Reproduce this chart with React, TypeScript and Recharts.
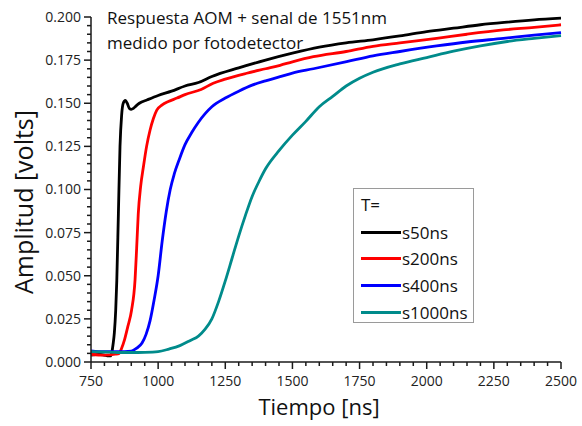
import React from 'react';
import { LineChart, Line, XAxis, YAxis } from 'recharts';

// ---------- data ----------
const s50Time = [750, 780, 800, 815, 822, 827, 832, 837, 842, 846, 852, 858, 864, 870, 878, 885, 893, 900, 908, 918, 930, 960, 1000, 1050, 1100, 1150, 1200, 1300, 1400, 1500, 1600, 1700, 1800, 1900, 2000, 2100, 2200, 2300, 2400, 2500];
const s50Amp = [0.004, 0.0045, 0.004, 0.0035, 0.0035, 0.005, 0.010, 0.017, 0.030, 0.047, 0.086, 0.125, 0.143, 0.150, 0.1516, 0.150, 0.147, 0.1465, 0.147, 0.1485, 0.150, 0.152, 0.1545, 0.157, 0.160, 0.162, 0.1655, 0.1705, 0.175, 0.179, 0.1825, 0.185, 0.1868, 0.189, 0.1915, 0.1935, 0.1955, 0.197, 0.1983, 0.1993];

const s200Time = [750, 800, 840, 855, 864, 875, 887, 901, 914, 920, 926, 935, 945, 957, 970, 982, 995, 1015, 1038, 1070, 1100, 1160, 1205, 1250, 1330, 1400, 1454, 1500, 1578, 1700, 1800, 1900, 2037, 2150, 2285, 2400, 2500];
const s200Amp = [0.0045, 0.004, 0.0045, 0.005, 0.008, 0.013, 0.0205, 0.030, 0.0476, 0.066, 0.086, 0.102, 0.113, 0.125, 0.1345, 0.141, 0.146, 0.149, 0.151, 0.153, 0.155, 0.158, 0.1616, 0.164, 0.1674, 0.170, 0.172, 0.174, 0.177, 0.180, 0.183, 0.185, 0.1876, 0.190, 0.1925, 0.194, 0.1955];

const s400Time = [750, 800, 850, 900, 920, 940, 955, 970, 985, 1000, 1015, 1030, 1045, 1060, 1080, 1100, 1125, 1150, 1175, 1200, 1250, 1300, 1350, 1400, 1454, 1500, 1578, 1702, 1800, 1900, 2037, 2150, 2285, 2400, 2500];
const s400Amp = [0.0065, 0.006, 0.006, 0.0063, 0.008, 0.011, 0.016, 0.024, 0.036, 0.050, 0.070, 0.087, 0.100, 0.109, 0.118, 0.126, 0.133, 0.139, 0.144, 0.148, 0.153, 0.157, 0.1605, 0.163, 0.1654, 0.1675, 0.170, 0.1741, 0.1775, 0.180, 0.1832, 0.1855, 0.1876, 0.1895, 0.191];

const s1000Time = [750, 800, 850, 900, 950, 1000, 1040, 1081, 1120, 1150, 1175, 1200, 1225, 1250, 1275, 1300, 1325, 1350, 1375, 1400, 1450, 1500, 1550, 1600, 1650, 1700, 1750, 1800, 1900, 2000, 2100, 2200, 2300, 2400, 2500];
const s1000Amp = [0.006, 0.0058, 0.0055, 0.0055, 0.0056, 0.006, 0.0075, 0.0095, 0.0125, 0.015, 0.019, 0.025, 0.035, 0.047, 0.060, 0.073, 0.085, 0.096, 0.1045, 0.112, 0.1225, 0.1315, 0.1395, 0.148, 0.154, 0.160, 0.1645, 0.168, 0.1728, 0.1765, 0.1802, 0.1833, 0.1858, 0.1876, 0.1892];

const seriesNames = ['s50ns', 's200ns', 's400ns', 's1000ns'];
const seriesColors = ['#000000', '#ff0000', '#0000ff', '#008b8b'];

const xMajorTicks = [750, 1000, 1250, 1500, 1750, 2000, 2250, 2500];
const yMajorTicks = [0, 0.025, 0.05, 0.075, 0.1, 0.125, 0.15, 0.175, 0.2];

const titleText = ['Respuesta AOM + senal de 1551nm', 'medido por fotodetector'];
const xTitle = 'Tiempo [ns]';
const yTitle = 'Amplitud [volts]';
const legendTitle = 'T=';

// ---------- layout ----------
const W = 582;
const H = 426;
const MARGIN = { top: 17, right: 21, bottom: 0, left: 0 };
const Y_AXIS_W = 91;
const X_AXIS_H = 64;
const X_DOMAIN: [number, number] = [750, 2500];
const Y_DOMAIN: [number, number] = [0, 0.2];
const PLOT = {
  left: MARGIN.left + Y_AXIS_W,
  right: W - MARGIN.right,
  top: MARGIN.top,
  bottom: H - MARGIN.bottom - X_AXIS_H,
};

// ---------- helpers ----------
const toRows = (t: number[], a: number[]) => t.map((v, i) => ({ t: v, a: a[i] }));
const seriesData = [toRows(s50Time, s50Amp), toRows(s200Time, s200Amp), toRows(s400Time, s400Amp), toRows(s1000Time, s1000Amp)];

const withMinor = (majors: number[], n: number, digits: number) => {
  const out: number[] = [];
  for (let i = 0; i < majors.length - 1; i++) {
    const a = majors[i];
    const b = majors[i + 1];
    for (let k = 1; k < n; k++) out.push(Number((a + ((b - a) * k) / n).toFixed(digits)));
  }
  return out;
};
const xMinorTicks = withMinor(xMajorTicks, 5, 3);
const yMinorTicks = withMinor(yMajorTicks, 5, 4);

// same linear mapping as the chart's axes, used only for the tick marks
const tx = (v: number) => PLOT.left + ((v - X_DOMAIN[0]) / (X_DOMAIN[1] - X_DOMAIN[0])) * (PLOT.right - PLOT.left);
const ty = (v: number) => PLOT.bottom - ((v - Y_DOMAIN[0]) / (Y_DOMAIN[1] - Y_DOMAIN[0])) * (PLOT.bottom - PLOT.top);
const MAJOR_LEN = 7;
const MINOR_LEN = 4;

const AXIS = '#1a1a1a';
const FONT = '"Open Sans", "Noto Sans", sans-serif';
const tickFont = { fontSize: 14, fontFamily: FONT, fill: '#222' };

export default function App() {
  return (
    <div style={{ position: 'absolute', left: 0, top: 0, width: W, height: H, background: '#fff', fontFamily: FONT }}>
      <LineChart width={W} height={H} margin={MARGIN}>
        <XAxis
          type="number"
          dataKey="t"
          domain={X_DOMAIN}
          ticks={xMajorTicks}
          interval={0}
          tickSize={7}
          tickMargin={7}
          tickLine={false}
          tick={tickFont}
          height={X_AXIS_H}
          stroke={AXIS}
          strokeWidth={1.5}
        />
        <YAxis
          type="number"
          dataKey="a"
          domain={Y_DOMAIN}
          ticks={yMajorTicks}
          interval={0}
          tickSize={7}
          tickMargin={3}
          tickLine={false}
          tick={tickFont}
          tickFormatter={(v: number) => v.toFixed(3)}
          width={Y_AXIS_W}
          stroke={AXIS}
          strokeWidth={1.5}
        />
        {seriesData.map((d, i) => (
          <Line
            key={seriesNames[i]}
            data={d}
            dataKey="a"
            name={seriesNames[i]}
            type="monotone"
            stroke={seriesColors[i]}
            strokeWidth={2.8}
            dot={false}
            activeDot={false}
            isAnimationActive={false}
          />
        ))}
      </LineChart>

      {/* tick marks */}
      <svg width={W} height={H} style={{ position: 'absolute', left: 0, top: 0, pointerEvents: 'none' }}>
        <g stroke={AXIS} strokeWidth={1.5}>
          {xMajorTicks.map((v) => (
            <line key={'xM' + v} x1={tx(v)} x2={tx(v)} y1={PLOT.bottom} y2={PLOT.bottom + MAJOR_LEN} />
          ))}
          {xMinorTicks.map((v) => (
            <line key={'xm' + v} x1={tx(v)} x2={tx(v)} y1={PLOT.bottom} y2={PLOT.bottom + MINOR_LEN} />
          ))}
          {yMajorTicks.map((v) => (
            <line key={'yM' + v} x1={PLOT.left} x2={PLOT.left - MAJOR_LEN} y1={ty(v)} y2={ty(v)} />
          ))}
          {yMinorTicks.map((v) => (
            <line key={'ym' + v} x1={PLOT.left} x2={PLOT.left - MINOR_LEN} y1={ty(v)} y2={ty(v)} />
          ))}
        </g>
      </svg>

      <div style={{ position: 'absolute', left: 107, top: 5, fontSize: 17, lineHeight: '25px', color: '#111', whiteSpace: 'nowrap' }}>
        <div>{titleText[0]}</div>
        <div>{titleText[1]}</div>
      </div>

      <div style={{ position: 'absolute', left: 0, width: W, top: 391, textAlign: 'center', paddingLeft: 56, boxSizing: 'border-box', fontSize: 22, color: '#111', whiteSpace: 'nowrap', lineHeight: '30px' }}>
        {xTitle}
      </div>
      <div
        style={{
          position: 'absolute',
          left: 23,
          top: 202,
          transform: 'translate(-50%, -50%) rotate(-90deg)',
          fontSize: 25,
          color: '#111',
          whiteSpace: 'nowrap',
          lineHeight: '30px',
        }}
      >
        {yTitle}
      </div>

      <div
        style={{
          position: 'absolute',
          left: 353,
          top: 188,
          width: 121,
          height: 135,
          border: '1px solid #9a9a9a',
          boxSizing: 'border-box',
          background: '#fff',
          fontSize: 17,
          color: '#111',
        }}
      >
        <div style={{ position: 'absolute', left: 7, top: 3, lineHeight: '26px' }}>{legendTitle}</div>
        {seriesNames.map((n, i) => (
          <div key={n} style={{ position: 'absolute', left: 7, top: 30 + i * 26.7, height: 26, display: 'flex', alignItems: 'center', whiteSpace: 'nowrap' }}>
            <span style={{ display: 'inline-block', width: 40, height: 3, background: seriesColors[i], marginRight: 1 }} />
            <span>{n}</span>
          </div>
        ))}
      </div>
    </div>
  );
}
